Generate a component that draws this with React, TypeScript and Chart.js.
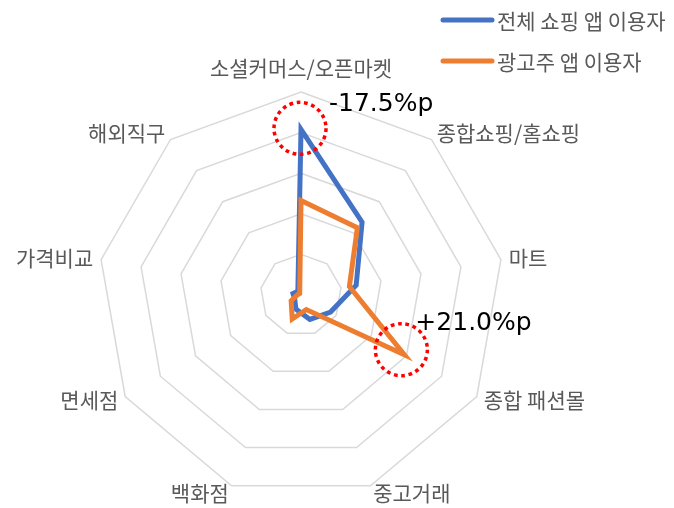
import React, { useEffect, useRef } from "react";
import { Chart, registerables } from "chart.js";

Chart.register(...registerables);

const categories = [
  "소셜커머스/오픈마켓",
  "종합쇼핑/홈쇼핑",
  "마트",
  "종합 패션몰",
  "중고거래",
  "백화점",
  "면세점",
  "가격비교",
  "해외직구",
];
const allShoppers = [40.8, 23.4, 13.8, 8.4, 6.4, 3.7, 1.8, 2.0, 1.2];
const advertisers = [23.3, 21.6, 12.1, 29.4, 3.8, 6.3, 2.8, 0.8, 0.5];
const seriesNames = ["전체 쇼핑 앱 이용자", "광고주 앱 이용자"];
const seriesColors = ["#4472C4", "#ED7D31"];
const annotationTexts = ["-17.5%p", "+21.0%p"];
const scaleMax = 50;
const scaleStep = 10;

const KFONT = '"Noto Sans CJK KR", "Noto Sans", sans-serif';

const annotations = [
  { series: 0, index: 0, text: annotationTexts[0], tx: 28, ty: -25, cx: -1, cy: -1 },
  { series: 1, index: 3, text: annotationTexts[1], tx: 11, ty: -31, cx: -3, cy: -5 },
];

const overlayPlugin = {
  id: "overlay",
  afterDatasetsDraw(chart: any) {
    const ctx = chart.ctx as any;
    const scale = chart.scales.r;
    const R = scale.drawingArea;
    ctx.save();

    // category labels
    ctx.font = `21px ${KFONT}`;
    ctx.fillStyle = "#595959";
    ctx.textBaseline = "middle";
    categories.forEach((c, i) => {
      const angleDeg = (360 / categories.length) * i;
      let p: any;
      if (i === 0) {
        p = scale.getPointPosition(i, R + 24);
        ctx.textAlign = "center";
      } else {
        p = scale.getPointPosition(i, R + 8);
        ctx.textAlign = angleDeg < 180 ? "left" : "right";
      }
      ctx.fillText(c, p.x, p.y);
    });

    // annotations
    const data = [allShoppers, advertisers];
    annotations.forEach((a) => {
      const p = scale.getPointPositionForValue(a.index, data[a.series][a.index]);
      ctx.beginPath();
      ctx.setLineDash([3.7, 3.7]);
      ctx.lineWidth = 3.5;
      ctx.strokeStyle = "#FF0000";
      ctx.arc(p.x + a.cx, p.y + a.cy, 26, 0, Math.PI * 2);
      ctx.stroke();
      ctx.setLineDash([]);
      ctx.font = `25px "DejaVu Sans", "Noto Sans", sans-serif`;
      ctx.fillStyle = "#000000";
      ctx.textAlign = "left";
      ctx.textBaseline = "middle";
      ctx.fillText(a.text, p.x + a.tx, p.y + a.ty);
    });

    // legend
    const legendY = [20, 61];
    seriesNames.forEach((name, i) => {
      ctx.beginPath();
      ctx.lineWidth = 5;
      ctx.lineCap = "round";
      ctx.strokeStyle = seriesColors[i];
      ctx.moveTo(443, legendY[i]);
      ctx.lineTo(492, legendY[i]);
      ctx.stroke();
      ctx.font = `21px ${KFONT}`;
      ctx.fillStyle = "#595959";
      ctx.textAlign = "left";
      ctx.textBaseline = "middle";
      ctx.fillText(name, 497, legendY[i] + 1);
    });

    ctx.restore();
  },
};

export default function App() {
  const canvasRef = useRef<HTMLCanvasElement | null>(null);

  useEffect(() => {
    if (!canvasRef.current) return;
    const chart = new Chart(canvasRef.current, {
      type: "radar",
      data: {
        labels: categories,
        datasets: [
          {
            label: seriesNames[0],
            data: allShoppers,
            borderColor: seriesColors[0],
            backgroundColor: "transparent",
            fill: false,
            order: 2,
          },
          {
            label: seriesNames[1],
            data: advertisers,
            borderColor: seriesColors[1],
            backgroundColor: "transparent",
            fill: false,
            order: 1,
          },
        ],
      },
      options: {
        animation: false,
        responsive: false,
        devicePixelRatio: 1,
        layout: { padding: { left: 98, top: 92, right: 169, bottom: 9 } },
        plugins: { legend: { display: false }, tooltip: { enabled: false } },
        elements: {
          line: { tension: 0, borderWidth: 5, borderJoinStyle: "miter" },
          point: { radius: 0, hoverRadius: 0 },
        },
        scales: {
          r: {
            min: 0,
            max: scaleMax,
            ticks: { display: false, stepSize: scaleStep },
            pointLabels: { display: false },
            angleLines: { display: false },
            grid: { color: "#D9D9D9", lineWidth: 1.5 },
          },
        },
      },
      plugins: [overlayPlugin],
    } as any);
    return () => chart.destroy();
  }, []);

  return (
    <div style={{ position: "absolute", left: 0, top: 0, width: 674, height: 508, background: "#fff" }}>
      <canvas ref={canvasRef} width={674} height={508} />
    </div>
  );
}
